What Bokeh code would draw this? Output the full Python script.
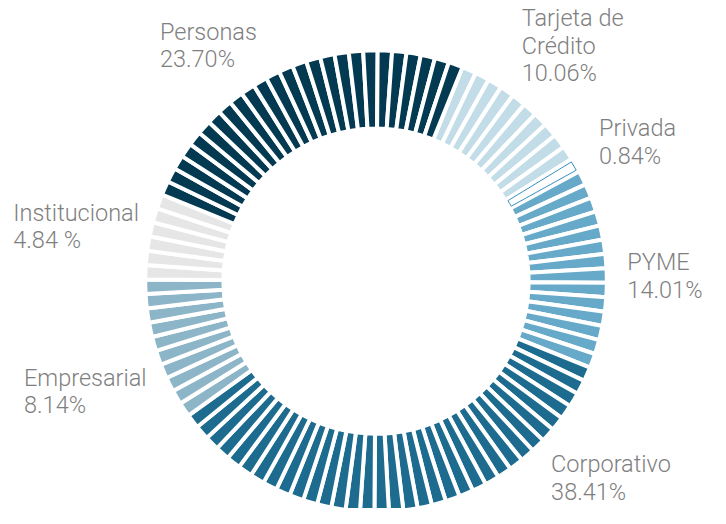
import math
from bokeh.plotting import figure
from bokeh.models import Range1d, ColumnDataSource
from bokeh.core.properties import value
from bokeh.embed import file_html
from bokeh.resources import INLINE

# ---- data ----
categories = ["Tarjeta de Crédito", "Privada", "PYME", "Corporativo",
              "Empresarial", "Institucional", "Personas"]
shares = [10.06, 0.84, 14.01, 38.41, 8.14, 4.84, 23.70]
segments = [10, 1, 14, 34, 10, 6, 25]          # ring segments per category
name_lines = ["Tarjeta de\nCrédito", "Privada", "PYME", "Corporativo",
              "Empresarial", "Institucional", "Personas"]
pct_text = ["10.06%", "0.84%", "14.01%", "38.41%", "8.14%", "4.84 %", "23.70%"]
colors = ["#c3dde8", "#ffffff", "#67a9c8", "#1d6b8e",
          "#8db5c8", "#e6e6e6", "#033a52"]

# ---- layout (data space = 726x524 reference canvas, drawn in a 710x508 figure) ----
W, H = 710, 508
DW, DH = 726, 524
CX, CY = 384, -289.5
R_OUT, R_IN = 236, 156
START = 22.0          # degrees clockwise from 12 o'clock
STEP = 360.0 / sum(segments)
label_pos = [(533, 28), (612, 142), (641, 280), (563, 488),
             (24, 399), (13, 229), (163, 42)]
LINE_H = 28.5
Y_ADJ = -10           # renderer baseline correction

p = figure(width=W, height=H, output_backend="svg", toolbar_location=None,
           x_range=Range1d(0, DW), y_range=Range1d(-DH, 0),
           min_border=0)
p.axis.visible = False
p.grid.visible = False
p.outline_line_color = None
p.background_fill_color = "white"
p.border_fill_color = "white"

starts, ends, fills = [], [], []
priv = None
k = 0
for ci, n in enumerate(segments):
    for j in range(n):
        a0 = START + STEP * k
        a1 = a0 + STEP
        s = math.radians(90 - a1)
        e = math.radians(90 - a0)
        starts.append(s)
        ends.append(e)
        fills.append(colors[ci])
        if categories[ci] == "Privada":
            priv = (s, e)
        k += 1

src = ColumnDataSource(dict(x=[CX] * len(starts), y=[CY] * len(starts),
                            s=starts, e=ends, c=fills))
p.annular_wedge(x="x", y="y", inner_radius=R_IN, outer_radius=R_OUT,
                start_angle="s", end_angle="e", fill_color="c",
                line_color="white", line_width=4, source=src)

# Privada: outlined segment
if priv is not None:
    inset = math.radians(0.6)
    p.annular_wedge(x=[CX], y=[CY], inner_radius=R_IN + 2, outer_radius=R_OUT - 2,
                    start_angle=[priv[0] + inset], end_angle=[priv[1] - inset],
                    fill_color="white", line_color="#3a8fc1", line_width=1)

# labels
tx, ty, tt = [], [], []
for i in range(len(categories)):
    lines = name_lines[i].split("\n") + [pct_text[i]]
    x0, b0 = label_pos[i]
    for li, line in enumerate(lines):
        tx.append(x0)
        ty.append(-(b0 + Y_ADJ + LINE_H * li))
        tt.append(line)
p.text(x=tx, y=ty, text=tt, text_font=value("Roboto Light"),
       text_font_size="23.5px", text_color="#7f7f7f",
       text_align="left", text_baseline="alphabetic")

open("out.html", "w").write(file_html(p, INLINE))
